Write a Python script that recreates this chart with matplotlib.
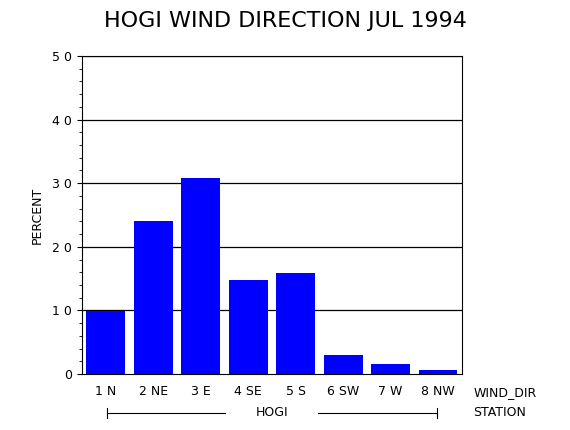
import matplotlib
matplotlib.use("Agg")
import matplotlib.pyplot as plt
from matplotlib.ticker import MultipleLocator

categories = ["1 N", "2 NE", "3 E", "4 SE", "5 S", "6 SW", "7 W", "8 NW"]
values = [9.9, 24.1, 30.8, 14.8, 15.9, 3.0, 1.6, 0.6]
yticks = [0, 10, 20, 30, 40, 50]

fig = plt.figure(figsize=(5.7, 4.3), dpi=100)
ax = fig.add_axes([0.144, 0.130, 0.666, 0.740])
x = list(range(len(categories)))
ax.bar(x, values, width=0.82, color="#0000ff", zorder=3)
ax.set_xlim(-0.5, 7.5)
ax.set_ylim(0, 50)
ax.set_yticks(yticks)
ax.set_yticklabels([" ".join(str(v)) for v in yticks], fontsize=9)
ax.yaxis.set_minor_locator(MultipleLocator(2))
ax.tick_params(axis="y", which="both", direction="out")
ax.tick_params(axis="y", which="minor", length=2)
ax.set_xticks(x)
ax.set_xticklabels(categories, fontsize=9)
ax.tick_params(axis="x", length=0, pad=8)
for t in yticks[1:]:
    ax.axhline(t, color="black", lw=0.9, zorder=2)
ax.set_ylabel("PERCENT", fontsize=9, labelpad=6)
fig.text(0.5, 0.952, "HOGI WIND DIRECTION JUL 1994", ha="center", va="center", fontsize=16)
fig.text(0.83, 0.086, "WIND_DIR", ha="left", va="center", fontsize=9)
fig.text(0.83, 0.040, "STATION", ha="left", va="center", fontsize=9)
y = 0.040
fig.add_artist(plt.Line2D([107/570, 225/570], [y, y], color="black", lw=0.8))
fig.add_artist(plt.Line2D([318/570, 437/570], [y, y], color="black", lw=0.8))
for xx in (107/570, 437/570):
    fig.add_artist(plt.Line2D([xx, xx], [y-0.012, y+0.012], color="black", lw=0.8))
fig.text(272/570, y, "HOGI", ha="center", va="center", fontsize=9)
fig.savefig("out.png", dpi=100)
